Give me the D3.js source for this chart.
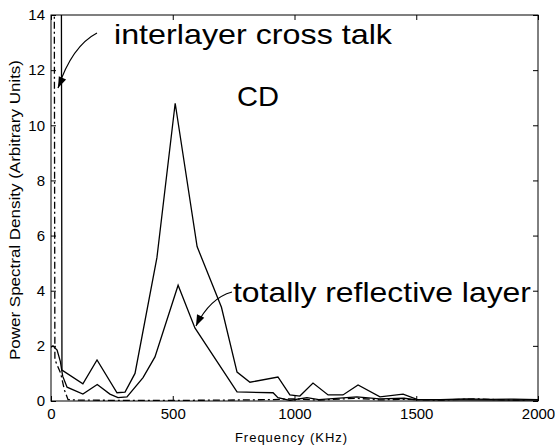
<!DOCTYPE html>
<html>
<head>
<meta charset="utf-8">
<script src="https://cdn.jsdelivr.net/npm/d3@7"></script>
<style>
  body { margin: 0; background: #fff; }
  svg { display: block; font-family: "Liberation Sans", Arial, sans-serif; }
</style>
</head>
<body>
<div id="chart"></div>
<script>
// axis ticks
const xTicks = [0, 500, 1000, 1500, 2000];
const yTicks = [0, 2, 4, 6, 8, 10, 12, 14];

// CD (upper solid curve), frequency in KHz
const cdFreq = [35, 45, 131, 189, 271, 304, 345, 435, 510, 600, 700, 764, 817, 932, 981, 1022, 1076, 1138, 1199, 1261, 1351, 1446, 1503, 1600, 1700, 1800, 1900, 2000];
const cdPsd  = [60, 1.12, 0.62, 1.49, 0.3, 0.32, 1.0, 5.2, 10.8, 5.6, 3.4, 1.05, 0.68, 0.87, 0.22, 0.18, 0.65, 0.22, 0.22, 0.58, 0.15, 0.25, 0.06, 0.05, 0.08, 0.06, 0.07, 0.05];

// totally reflective layer (lower solid curve)
const trFreq = [0, 8, 25, 38, 48, 66, 131, 190, 242, 275, 312, 378, 427, 522, 591, 764, 912, 932, 981, 1051, 1100, 1256, 1350, 1450, 1500, 1700, 2000];
const trPsd  = [1.95, 2.0, 1.85, 1.45, 0.9, 0.5, 0.25, 0.6, 0.25, 0.12, 0.15, 0.85, 1.6, 4.2, 2.65, 0.33, 0.3, 0.12, 0.02, 0.12, 0.05, 0.15, 0.08, 0.1, 0.04, 0.04, 0.03];

// interlayer cross talk (dash-dot curve)
const ctFreq = [5, 16, 40, 55, 70, 120, 400, 700, 900, 1000, 1100, 1250, 1350, 1450, 1600, 1750, 1850, 1950];
const ctPsd  = [60, 1.5, 1.0, 0.4, 0.05, 0.03, 0.02, 0.03, 0.05, 0.08, 0.03, 0.1, 0.04, 0.06, 0.03, 0.08, 0.04, 0.03];

const width = 555;
const height = 448;
const margin = { top: 15, right: 17, bottom: 47, left: 51 };
const innerW = width - margin.left - margin.right;
const innerH = height - margin.top - margin.bottom;

const svg = d3.select("#chart")
  .append("svg")
  .attr("width", width)
  .attr("height", height);

const x = d3.scaleLinear().domain([0, 2000]).range([0, innerW]);
const y = d3.scaleLinear().domain([0, 14]).range([innerH, 0]);

const g = svg.append("g")
  .attr("transform", `translate(${margin.left},${margin.top})`);

// clip lines to plot box
g.append("clipPath").attr("id", "plotClip")
  .append("rect").attr("width", innerW).attr("height", innerH);

// axes, ticks pointing inward like the original
const styleAxis = sel => {
  sel.attr("font-size", 15).attr("font-family", null);
  sel.select(".domain").remove();
  sel.selectAll("line").attr("stroke", "#000");
  sel.selectAll("text").attr("fill", "#000");
};

g.append("g")
  .attr("transform", `translate(0,${innerH})`)
  .call(d3.axisBottom(x).tickValues(xTicks).tickFormat(d3.format("d"))
    .tickSizeInner(-5).tickSizeOuter(0).tickPadding(7))
  .call(styleAxis);

g.append("g")
  .call(d3.axisTop(x).tickValues(xTicks).tickSizeInner(-5).tickSizeOuter(0).tickFormat(""))
  .call(styleAxis);

g.append("g")
  .call(d3.axisLeft(y).tickValues(yTicks).tickFormat(d3.format("d"))
    .tickSizeInner(-5).tickSizeOuter(0).tickPadding(6))
  .call(styleAxis);

g.append("g")
  .attr("transform", `translate(${innerW},0)`)
  .call(d3.axisRight(y).tickValues(yTicks).tickSizeInner(-5).tickSizeOuter(0).tickFormat(""))
  .call(styleAxis);

g.append("rect")
  .attr("width", innerW)
  .attr("height", innerH)
  .attr("fill", "none")
  .attr("stroke", "#000")
  .attr("stroke-width", 1);

// curves
const line = d3.line().x(d => x(d[0])).y(d => y(d[1]));
const lines = g.append("g").attr("clip-path", "url(#plotClip)");

lines.append("path")
  .datum(d3.zip(ctFreq, ctPsd))
  .attr("d", line)
  .attr("fill", "none")
  .attr("stroke", "#000")
  .attr("stroke-width", 1.3)
  .attr("stroke-dasharray", "7,3,2,3");

lines.append("path")
  .datum(d3.zip(trFreq, trPsd))
  .attr("d", line)
  .attr("fill", "none")
  .attr("stroke", "#000")
  .attr("stroke-width", 1.3);

lines.append("path")
  .datum(d3.zip(cdFreq, cdPsd))
  .attr("d", line)
  .attr("fill", "none")
  .attr("stroke", "#000")
  .attr("stroke-width", 1.3);

// axis titles
svg.append("text")
  .attr("x", margin.left + x(1000) - 3)
  .attr("y", 442)
  .attr("text-anchor", "middle")
  .attr("font-size", 13)
  .attr("letter-spacing", 1)
  .text("Frequency (KHz)");

svg.append("text")
  .attr("transform", "translate(20,210) rotate(-90)")
  .attr("text-anchor", "middle")
  .attr("font-size", 14)
  .attr("textLength", 300)
  .attr("lengthAdjust", "spacingAndGlyphs")
  .text("Power Spectral Density (Arbitrary Units)");

// annotations
const note = (tx, ty, len, label) => svg.append("text")
  .attr("x", tx)
  .attr("y", ty)
  .attr("font-size", 28)
  .attr("textLength", len)
  .attr("lengthAdjust", "spacingAndGlyphs")
  .text(label);

note(114, 44, 278, "interlayer cross talk");
note(237, 106, 42, "CD");
note(233, 302, 298, "totally reflective layer");

// arrows with filled heads
const arrow = (path, tip, from) => {
  svg.append("path")
    .attr("d", path)
    .attr("fill", "none")
    .attr("stroke", "#000")
    .attr("stroke-width", 1.2);
  const ang = Math.atan2(tip[1] - from[1], tip[0] - from[0]);
  const len = 11, half = 4;
  const bx = tip[0] - len * Math.cos(ang), by = tip[1] - len * Math.sin(ang);
  const px = -Math.sin(ang) * half, py = Math.cos(ang) * half;
  svg.append("path")
    .attr("d", `M${tip[0]},${tip[1]}L${bx + px},${by + py}L${bx - px},${by - py}Z`)
    .attr("fill", "#000");
};

arrow("M97,33 Q72,46 58,88", [58, 88], [66, 70]);
arrow("M232,292 Q210,298 196,326", [196, 326], [203, 311]);
</script>
</body>
</html>
